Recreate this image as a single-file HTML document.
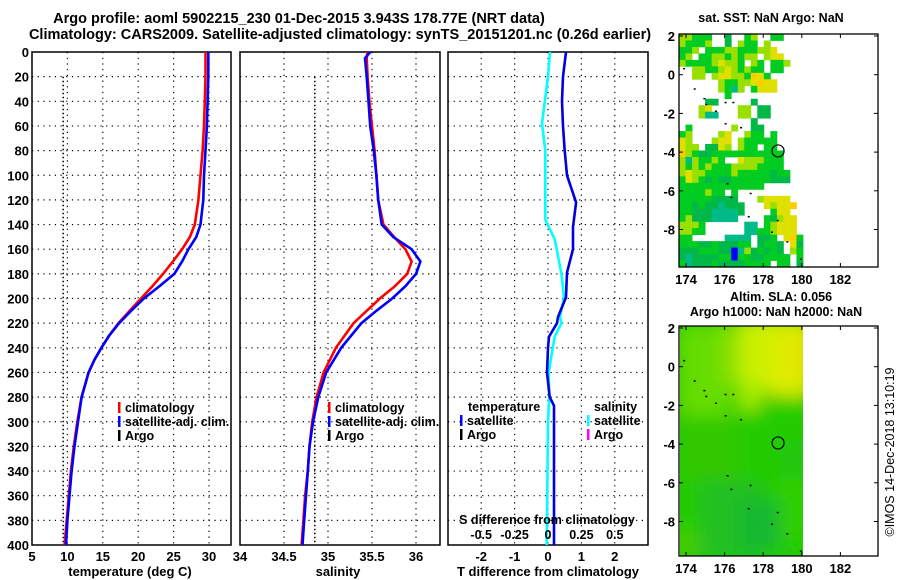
<!DOCTYPE html>
<html><head><meta charset="utf-8">
<style>
html,body{margin:0;padding:0;background:#fff;}
svg{display:block;font-family:"Liberation Sans",sans-serif;font-weight:bold;}
</style></head>
<body>
<svg id="fig" width="900" height="580" viewBox="0 0 900 580" xmlns="http://www.w3.org/2000/svg">
<defs>
<filter id="blur" x="0" y="0" width="1" height="1"><feGaussianBlur stdDeviation="9"/></filter>
<clipPath id="clipB"><rect x="680" y="326" width="123" height="230"/></clipPath>
</defs>
<text x="299" y="23" font-size="14.5" text-anchor="middle">Argo profile: aoml 5902215_230 01-Dec-2015 3.943S 178.77E (NRT data)</text>
<text x="340" y="39" font-size="14.5" text-anchor="middle">Climatology: CARS2009. Satellite-adjusted climatology: synTS_20151201.nc (0.26d earlier)</text>
<g id="plots"></g>
<text transform="translate(894,452) rotate(-90)" font-size="12.5" font-weight="normal" text-anchor="middle">©IMOS 14-Dec-2018 13:10:19</text>
</svg>
<script>
const NS="http://www.w3.org/2000/svg";
const root=document.getElementById('plots');
function mk(tag,attrs,parent,text){const e=document.createElementNS(NS,tag);for(const k in attrs)e.setAttribute(k,attrs[k]);if(text!==undefined)e.textContent=text;(parent||root).appendChild(e);return e;}

// ---- data ----
const depthTicks=[0,20,40,60,80,100,120,140,160,180,200,220,240,260,280,300,320,340,360,380,400];
const tempTicks=[5,10,15,20,25,30];
const salTicks=[34,34.5,35,35.5,36];
const salTickLabels=["34","34.5","35","35.5","36"];
const tdiffTicks=[-2,-1,0,1,2];
const sdiffTicks=[-0.5,-0.25,0,0.25,0.5];
const sdiffTickLabels=["-0.5","-0.25","0","0.25","0.5"];

const tempDepths=[0,20,40,60,80,100,120,140,150,160,170,180,190,200,210,220,230,240,250,260,270,280,300,320,340,360,380,400];
const tempClim=[29.5,29.5,29.4,29.3,29.1,28.8,28.5,28.0,27.3,26.2,24.9,23.5,22.0,20.4,18.8,17.2,15.9,14.8,13.8,13.0,12.5,12.0,11.4,10.9,10.5,10.2,9.9,9.6];
const tempSat=[29.9,29.9,29.8,29.7,29.5,29.3,29.2,28.8,28.2,27.1,26.2,25.1,23.0,20.8,19.0,17.3,15.9,14.8,13.8,13.0,12.5,12.0,11.5,11.0,10.6,10.3,10.0,9.8];
const salDepths=[0,5,20,40,60,80,100,120,140,150,160,170,180,190,200,210,220,240,260,280,300,320,340,360,380,400];
const salClim=[35.45,35.44,35.45,35.47,35.5,35.53,35.55,35.57,35.63,35.75,35.88,35.95,35.9,35.76,35.59,35.44,35.29,35.09,34.95,34.87,34.82,34.79,34.77,34.74,34.72,34.70];
const salSat=[35.48,35.42,35.44,35.46,35.48,35.52,35.55,35.57,35.61,35.74,35.95,36.05,36.0,35.88,35.73,35.55,35.38,35.15,34.98,34.89,34.83,34.79,34.77,34.75,34.73,34.71];
const argoDepths=[20,400];
const argoTemp=[9.4,9.4];
const argoSal=[34.85,34.85];
const diffDepths=[0,20,40,60,80,100,122,142,160,179,199,215,220,231,240,260,280,287,300,400];
const tDiffSat=[0.54,0.45,0.42,0.45,0.5,0.57,0.84,0.75,0.75,0.57,0.54,0.3,0.27,0.03,0.0,-0.03,0.05,0.18,0.18,0.18];
const sDiffDepths=[0,20,58,80,100,136,152,163,180,199,215,220,231,250,260,280,300,400];
const sDiffSat=[0.015,0.0,-0.045,-0.02,-0.02,-0.02,0.05,0.07,0.1,0.12,0.09,0.1,0.05,0.02,0.005,0.01,0.0,-0.01];

// ---- axis functions ----
const Y0=52,Y1=545;
const yD=d=>Y0+(d/400)*(Y1-Y0);
const xT=t=>32+(t-5)*(177/25);
const xS=s=>240+(s-34)*88;
const xTd=t=>548+t*33.4;
const xSd=s=>548+s*133.6;

function panel(name,x0,x1,xTicksV,xfun,xLabels,title,titleX){
  const g=mk('g',{});
  
  
  xTicksV.forEach(v=>{const x=xfun(v);if(x>x0+2&&x<x1-2){const l=mk('line',{x1:x,x2:x,y1:Y0,y2:Y1,stroke:'#000','stroke-width':1.2,'stroke-dasharray':'1.2 4.5'},g);}});
  depthTicks.forEach(d=>{if(d>0&&d<400){const l=mk('line',{x1:x0,x2:x1,y1:yD(d),y2:yD(d),stroke:'#000','stroke-width':1.2,'stroke-dasharray':'1.2 4.5'},g);}});
  const r=mk('rect',{x:x0,y:Y0,width:x1-x0,height:Y1-Y0,fill:'none',stroke:'#000','stroke-width':1.5},g);
  
  if(xLabels){xTicksV.forEach((v,i)=>{const t=mk('text',{x:xfun(v),y:561,'font-size':13,'text-anchor':'middle'},g,xLabels[i]);});}
  const tt=mk('text',{x:titleX,y:576,'font-size':13,'text-anchor':'middle'},g,title);
  
  return g;
}
function line(g,depths,vals,xfun,color,name,w){
  const pts=depths.map((d,i)=>xfun(vals[i]).toFixed(1)+','+yD(d).toFixed(1)).join(' ');
  const p=mk('polyline',{points:pts,fill:'none',stroke:color,'stroke-width':w||2.6},g);
  
  return p;
}
function legend(g,x,y,color,label,name){
  const m=mk('rect',{x:x,y:y-10,width:2.5,height:11,fill:color},g);
  
  const t=mk('text',{x:x+7,y:y,'font-size':12.5},g,label);
  
}

depthTicks.forEach(d=>{const t=mk('text',{x:29,y:yD(d)+5,'font-size':13,'text-anchor':'end'},root,String(d));});

// temperature panel
const gT=panel('temperature-panel',32,231,tempTicks,xT,["5","10","15","20","25","30"],'temperature (deg C)',130);
const aT=line(gT,argoDepths,argoTemp,xT,'#000','argo-temperature-line',1.5);
aT.setAttribute('stroke-dasharray','1.5 2.5');
line(gT,tempDepths,tempClim,xT,'#ff0000','climatology-temperature-line');
line(gT,tempDepths,tempSat,xT,'#0000ff','satellite-temperature-line');
legend(gT,118,412,'#ff0000','climatology','legend-climatology');
legend(gT,118,426,'#0000ff','satellite-adj. clim.','legend-satellite-adj');
legend(gT,118,440,'#000','Argo','legend-argo');

// salinity panel
const gS=panel('salinity-panel',240,440,salTicks,xS,null,'salinity',338);
const aS=line(gS,argoDepths,argoSal,xS,'#000','argo-salinity-line',1.5);
aS.setAttribute('stroke-dasharray','1.5 2.5');
line(gS,salDepths,salClim,xS,'#ff0000','climatology-salinity-line');
line(gS,salDepths,salSat,xS,'#0000ff','satellite-salinity-line');
legend(gS,328,412,'#ff0000','climatology','legend-climatology');
legend(gS,328,426,'#0000ff','satellite-adj. clim.','legend-satellite-adj');
legend(gS,328,440,'#000','Argo','legend-argo');
salTicks.forEach((v,i)=>{const t=mk('text',{x:xS(v),y:561,'font-size':13,'text-anchor':'middle'},gS,salTickLabels[i]);});

// difference panel
const gD=panel('difference-panel',448,648,tdiffTicks,xTd,["-2","-1","0","1","2"],'T difference from climatology',548);
line(gD,sDiffDepths,sDiffSat,xSd,'#00ffff','salinity-difference-line');
line(gD,diffDepths,tDiffSat,xTd,'#0000dd','temperature-difference-line');
let tx=mk('text',{x:468,y:411,'font-size':12.5},gD,'temperature');
tx=mk('text',{x:594,y:411,'font-size':12.5},gD,'salinity');
legend(gD,460,425,'#0000ff','satellite','legend-temperature-satellite');
legend(gD,460,439,'#000','Argo','legend-temperature-argo');
legend(gD,587,425,'#00ffff','satellite','legend-salinity-satellite');
legend(gD,587,439,'#ff00ff','Argo','legend-salinity-argo');
tx=mk('text',{x:547,y:524,'font-size':12.5,'text-anchor':'middle'},gD,'S difference from climatology');
sdiffTicks.forEach((v,i)=>{const t=mk('text',{x:xSd(v),y:539,'font-size':12.5,'text-anchor':'middle'},gD,sdiffTickLabels[i]);});

// ---- maps ----
const lonTicks=[174,176,178,180,182];
const latTicks=[2,0,-2,-4,-6,-8];
function mapAxes(name,top){
  const g=mk('g',{});
  
  const lon=v=>686+(v-174)*19.3;
  const lat=v=>(top+2)-(v-2)*19.35;
  return {g,lon,lat};
}
const topMap=mapAxes('sst-map',34);
const sstRows=[
"llggg..G..gl..gg...",
"lgggl..G.lgg.l.....",
"ggl.gggllggglly....",
"gl.ggllglgll.lyy...",
"lgggglyllg.lg.ggl..",
"..llgglylglgg.gg...",
"..ll.lyyllgoyg.....",
"......lggllyoyy....",
"......lgtl.gyyy....",
".......g...........",
"....GG.....G.......",
"...ly....ll.GG.....",
"...ltt...ll.GG.....",
"...........G.......",
".g......l..GG......",
"gl....ly..lgg.g....",
"yl...lyy.lggggg....",
"yll.GGyl.lgg.gg....",
"olgGGggggggggggg...",
"ltlgglg..ylllggg...",
"lglglgggllllgggg...",
"lyllgggglgggggGgg..",
"gylgGgGGggggggGGG..",
"ggggggggggggg......",
"gggglgg.g..........",
"gggggGGGG...lyyyy..",
"ggGgGGtGGG...ylyyo.",
"ggGGGttttG....gyy..",
"glGGGtttt....gGlyy.",
"lllg......tt.glyyy.",
"llgg......ttgglyyy.",
"gg.....tttt.GGg.yog",
"gggGGgGGGgg.GggG.yG",
"GGGgggGGbtlGgGgG.lg",
"GtGGGGggbggGGgggg.g",
"gtGGGgGGGGgggg.gg.G"];
const sstColors={g:'#00cc22',G:'#00b848',l:'#99e000',y:'#e0e000',o:'#ffcc00',t:'#00bb88',c:'#00cccc',b:'#0000ff'};
(function(){
  const g=topMap.g;
  const cw=(803-679)/19, ch=(267-34)/sstRows.length;
  sstRows.forEach((row,r)=>{for(let c=0;c<row.length;c++){const k=row[c];if(k==='.')continue;
    const e=mk('rect',{x:(679+c*cw).toFixed(2),y:(34+r*ch).toFixed(2),width:(cw+0.4).toFixed(2),height:(ch+0.4).toFixed(2),fill:sstColors[k]},g);
    }});
})();
const bottomMap=mapAxes('sla-map',326);
(function(){
  const g=bottomMap.g;
  const cg=mk('g',{'clip-path':'url(#clipB)'},g);
  const bg=mk('rect',{x:680,y:326,width:123,height:230,fill:'#22cc00'},cg);
  
  const fg=mk('g',{filter:'url(#blur)'},cg);
  const blobs=[[660,300,170,290,'#22cc00'],[680,326,50,90,'#66dd00'],[720,326,40,60,'#88e000'],[740,320,70,70,'#ccf000'],[770,326,40,70,'#ddee00'],[790,330,25,50,'#e4e400'],[740,380,20,30,'#aaee00'],[680,420,60,60,'#33c800'],[700,480,60,80,'#22c020'],[740,500,40,50,'#18b830'],[780,440,30,40,'#22c810'],[780,480,25,60,'#33d000'],[660,530,40,30,'#44cc00']];
  blobs.forEach(b=>{const e=mk('rect',{x:b[0],y:b[1],width:b[2],height:b[3],fill:b[4]},fg);});
})();
[[topMap,34,267],[bottomMap,326,556]].forEach(([m,top,bottom])=>{
  const g=m.g;
  const fr=mk('rect',{x:679,y:top,width:199,height:bottom-top,fill:'none',stroke:'#000','stroke-width':1.3},g);
  
  lonTicks.forEach(v=>{const x=m.lon(v);
    mk('line',{x1:x,x2:x,y1:bottom,y2:bottom-4,stroke:'#000'},g);mk('line',{x1:x,x2:x,y1:top,y2:top+4,stroke:'#000'},g);
    const t=mk('text',{x:x,y:bottom+17,'font-size':13,'text-anchor':'middle'},g,String(v));});
  latTicks.forEach(v=>{const y=m.lat(v);
    mk('line',{x1:679,x2:683,y1:y,y2:y,stroke:'#000'},g);mk('line',{x1:878,x2:874,y1:y,y2:y,stroke:'#000'},g);
    const t=mk('text',{x:675,y:y+5,'font-size':13,'text-anchor':'end'},g,String(v));});
  const c=mk('circle',{cx:m.lon(178.77),cy:m.lat(-3.94),r:6,fill:'none',stroke:'#000','stroke-width':1.2},g);
  
  [[173.85,0.35],[174.4,-0.7],[174.9,-1.2],[175.0,-1.5],[175.5,-1.85],[176.0,-1.4],[176.4,-1.4],[176.0,-2.5],[176.8,-2.7],[176.1,-5.6],[176.3,-6.3],[177.3,-6.1],[177.2,-7.3],[178.7,-7.5],[178.4,-8.1],[179.2,-8.6],[179.9,-9.5]].forEach(p=>{
    const d=mk('rect',{x:m.lon(p[0]),y:m.lat(p[1]),width:2,height:1.5,fill:'#000'},g);});
});
let mt=mk('text',{x:771,y:22,'font-size':12.5,'text-anchor':'middle'},root,'sat. SST: NaN Argo: NaN');
mt=mk('text',{x:781,y:301,'font-size':12.5,'text-anchor':'middle'},root,'Altim. SLA: 0.056');
mt=mk('text',{x:776,y:316,'font-size':12.5,'text-anchor':'middle'},root,'Argo h1000: NaN h2000: NaN');
</script>
</body></html>
